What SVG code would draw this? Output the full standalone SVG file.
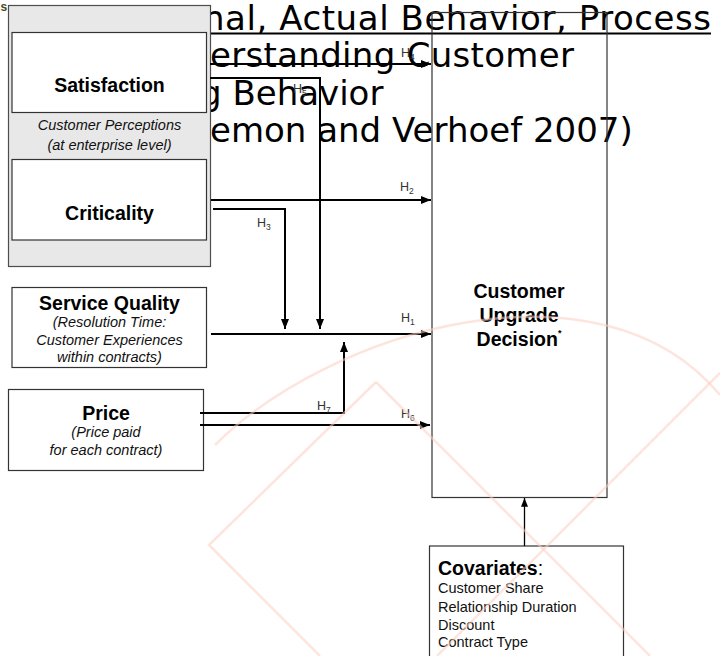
<svg xmlns="http://www.w3.org/2000/svg" width="720" height="656" viewBox="0 0 720 656">
<defs>
<marker id="ah" viewBox="0 0 10 8" refX="10" refY="4" markerWidth="10" markerHeight="8" markerUnits="userSpaceOnUse" orient="auto"><path d="M0,0 L10,4 L0,8 Z" fill="#000"/></marker>
<marker id="ahs" viewBox="0 0 10 8" refX="10" refY="4" markerWidth="9" markerHeight="7" markerUnits="userSpaceOnUse" orient="auto"><path d="M0,0 L10,4 L0,8 Z" fill="#000"/></marker>
<style>
.title{font-family:"DejaVu Sans",Verdana,sans-serif;font-size:34px;fill:#000}
.b{font-family:"Liberation Sans",Arial,sans-serif;font-weight:bold;font-size:19.5px;fill:#000;text-anchor:middle}
.it{font-family:"Liberation Sans",Arial,sans-serif;font-style:italic;font-size:14.5px;fill:#111;text-anchor:middle}
.reg{font-family:"Liberation Sans",Arial,sans-serif;font-size:14.5px;fill:#111}
.box{fill:#fff;stroke:#333;stroke-width:1.2}
.lab{font-family:"Liberation Sans",Arial,sans-serif;font-size:12.5px;fill:#333}
.sub{font-size:8.5px}
.con{fill:none;stroke:#000;stroke-width:2}
.wm{fill:none;stroke:#fbcfc2;stroke-width:2.5;opacity:0.55}
</style>
</defs>
<rect width="720" height="656" fill="#fff"/>

<g id="title">
<text class="title" x="203" y="30" textLength="508" lengthAdjust="spacing">nal, Actual Behavior, Process</text>
<line x1="205" y1="33.5" x2="711" y2="33.5" stroke="#000" stroke-width="2"/>
<text class="title" x="210" y="67" textLength="364" lengthAdjust="spacing">erstanding Customer</text>
<text class="title" x="200" y="105">g Behavior</text>
<text class="title" x="210" y="142">emon and Verhoef 2007)</text>
</g>

<text x="0.5" y="11" font-family="Liberation Sans, Arial, sans-serif" font-weight="bold" font-size="12" fill="#4b4b1e">s</text>

<g id="perceptions">
<rect x="8.5" y="5.5" width="202" height="261" fill="#e8e8e8" stroke="#4d4d4d" stroke-width="1.2"/>
<text class="it" x="109.5" y="130">Customer Perceptions</text>
<text class="it" x="109.5" y="150">(at enterprise level)</text>
</g>
<g id="satisfaction">
<rect class="box" x="12" y="32.5" width="194.5" height="80"/>
<text class="b" x="109.5" y="91.5">Satisfaction</text>
</g>
<g id="criticality">
<rect class="box" x="12" y="159.5" width="194.5" height="80.5"/>
<text class="b" x="109.5" y="219.5">Criticality</text>
</g>
<g id="service-quality">
<rect class="box" x="12" y="287.5" width="194.5" height="80"/>
<text class="b" x="109.5" y="309.5">Service Quality</text>
<text class="it" x="109.5" y="327">(Resolution Time:</text>
<text class="it" x="109.5" y="344.5">Customer Experiences</text>
<text class="it" x="109.5" y="362">within contracts)</text>
</g>
<g id="price">
<rect class="box" x="8.5" y="389.5" width="195" height="81"/>
<text class="b" x="106" y="419.5">Price</text>
<text class="it" x="106" y="437">(Price paid</text>
<text class="it" x="106" y="455">for each contract)</text>
</g>
<g id="upgrade">
<rect x="432" y="12.5" width="175" height="485" fill="none" stroke="#333" stroke-width="1.2"/>
<text class="b" x="519" y="298">Customer</text>
<text class="b" x="519" y="321.5">Upgrade</text>
<text class="b" x="519" y="346">Decision<tspan font-size="9" dy="-10">*</tspan></text>
</g>
<g id="covariates">
<rect class="box" x="429.5" y="546" width="194" height="120"/>
<text x="438" y="575" font-family="Liberation Sans, Arial, sans-serif" font-size="19.5" fill="#000"><tspan font-weight="bold">Covariates</tspan>:</text>
<text class="reg" x="438" y="593">Customer Share</text>
<text class="reg" x="438" y="611.5">Relationship Duration</text>
<text class="reg" x="438" y="629.5">Discount</text>
<text class="reg" x="438" y="647">Contract Type</text>
</g>

<g id="connectors">
<path class="con" d="M210,64 H431" marker-end="url(#ah)"/>
<path class="con" d="M210,78 H320 V329" marker-end="url(#ah)"/>
<path class="con" d="M211,200 H431" marker-end="url(#ah)"/>
<path class="con" d="M213,209 H285 V329" marker-end="url(#ah)"/>
<path class="con" d="M211,334 H431" marker-end="url(#ah)"/>
<path class="con" d="M200,413 H344 V342" marker-end="url(#ah)"/>
<path class="con" d="M200,425 H430" marker-end="url(#ah)"/>
<path fill="none" stroke="#000" stroke-width="1.3" d="M524.5,546 V498" marker-end="url(#ahs)"/>
<text class="lab" x="401" y="57">H<tspan class="sub" dy="3">4</tspan></text>
<text class="lab" x="293" y="93">H<tspan class="sub" dy="3">5</tspan></text>
<text class="lab" x="400" y="191">H<tspan class="sub" dy="3">2</tspan></text>
<text class="lab" x="257" y="227">H<tspan class="sub" dy="3">3</tspan></text>
<text class="lab" x="401" y="322">H<tspan class="sub" dy="3">1</tspan></text>
<text class="lab" x="317" y="410">H<tspan class="sub" dy="3">7</tspan></text>
<text class="lab" x="401" y="418">H<tspan class="sub" dy="3">6</tspan></text>
</g>

<g id="watermark">
<path class="wm" d="M215,445 C330,330 600,250 720,395"/>
<path class="wm" d="M376,382 L209,545 L320,656"/>
<path class="wm" d="M376,382 L650,656"/>
<path class="wm" d="M720,373 L437,656"/>
</g>
</svg>
